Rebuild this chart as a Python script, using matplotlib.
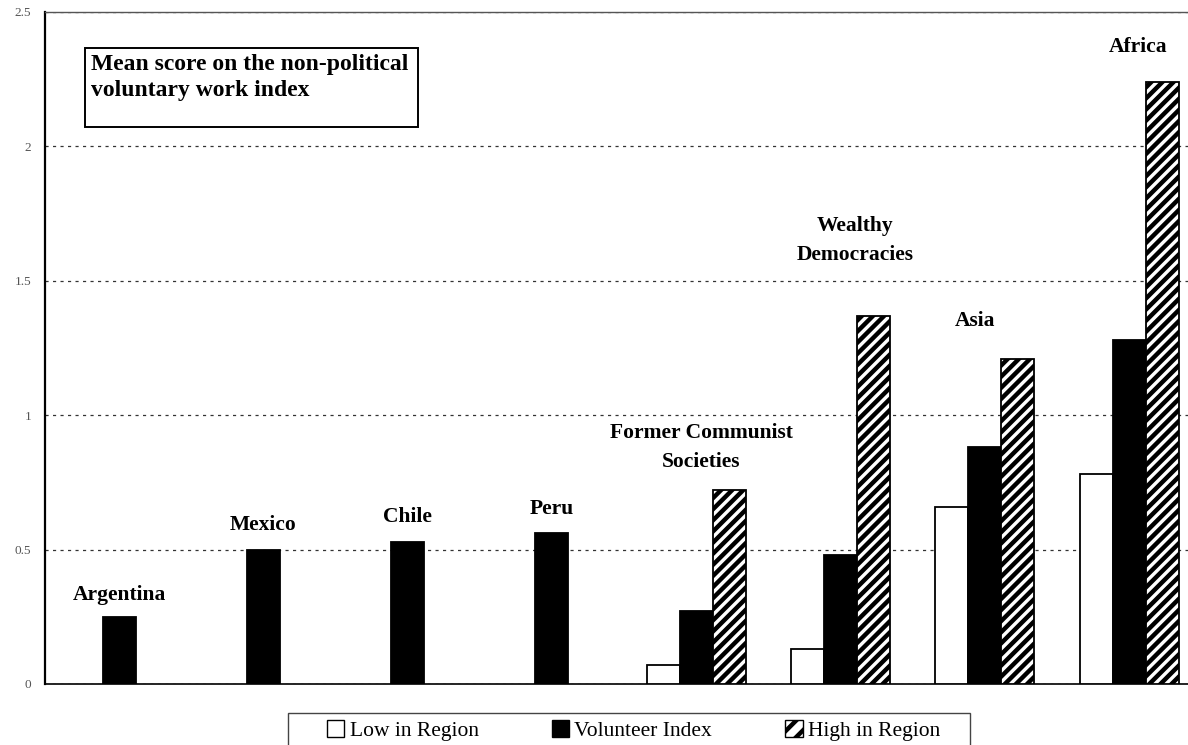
import numpy as np
import matplotlib
matplotlib.use("Agg")
import matplotlib.pyplot as plt
from matplotlib.patches import Patch, Rectangle

# dados
groups = ["Argentina", "Mexico", "Chile", "Peru",
          "Former Communist\nSocieties", "Wealthy\nDemocracies", "Asia", "Africa"]
low_in_region = [np.nan, np.nan, np.nan, np.nan, 0.07, 0.13, 0.66, 0.78]
volunteer_index = [0.25, 0.50, 0.53, 0.56, 0.27, 0.48, 0.88, 1.28]
high_in_region = [np.nan, np.nan, np.nan, np.nan, 0.72, 1.37, 1.21, 2.24]
y_ticks = [0, 0.5, 1, 1.5, 2, 2.5]
y_tick_labels = ["0", "0.5", "1", "1.5", "2", "2.5"]

# posição dos rótulos de grupo (x offset, y em unidades do eixo)
LABEL_POS = [(0, 0.33), (0, 0.59), (0, 0.62), (0, 0.65),
             (0.035, 0.88), (0.1, 1.65), (-0.07, 1.35), (0.06, 2.37)]

plt.rcParams["font.family"] = ["Liberation Serif", "DejaVu Serif"]
plt.rcParams["hatch.linewidth"] = 3.2

fig = plt.figure(figsize=(11.88, 7.45), dpi=100)
ax = fig.add_axes([45 / 1188, 61 / 745, 1143 / 1188, 672 / 745])

x = np.arange(len(groups))
w = 0.229
ax.bar(x - w, low_in_region, w, color="white", edgecolor="black", linewidth=1.3, zorder=3)
ax.bar(x, volunteer_index, w, color="black", edgecolor="black", linewidth=1.3, zorder=3)
ax.bar(x + w, high_in_region, w, color="white", edgecolor="black", hatch="///",
       linewidth=1.3, zorder=3)

for i, (name, (dx, ly)) in enumerate(zip(groups, LABEL_POS)):
    ax.text(i + dx, ly, name, ha="center", va="center", fontsize=15.5,
            fontweight="bold", linespacing=1.6, zorder=4)

ax.set_xlim(-0.513, 7.408)
ax.set_ylim(0, 2.5)
ax.set_xticks([])
ax.set_yticks(y_ticks)
ax.set_yticklabels(y_tick_labels, fontsize=9.5, color="#555555")
ax.tick_params(axis="y", length=0, pad=10)
ax.yaxis.grid(True, linestyle=(0, (2.5, 3.5)), color="#333333", linewidth=0.9)
ax.set_axisbelow(True)

ax.spines["right"].set_visible(False)
ax.spines["left"].set_linewidth(1.6)
ax.spines["bottom"].set_linewidth(1.2)
ax.spines["top"].set_linewidth(1.0)
ax.spines["top"].set_color("#555555")

# caixa do título
ax.add_patch(Rectangle((0.035, 0.829), 0.291, 0.117, transform=ax.transAxes,
                       facecolor="white", edgecolor="black", linewidth=1.4, zorder=5))
ax.text(0.040, 0.937, "Mean score on the non-political\nvoluntary work index",
        transform=ax.transAxes, ha="left", va="top", fontsize=17,
        fontweight="bold", linespacing=1.3, zorder=6)

# legenda manual, moldura desenhada à parte
handles = [Patch(facecolor="white", edgecolor="black", label="Low in Region"),
           Patch(facecolor="black", edgecolor="black", label="Volunteer Index"),
           Patch(facecolor="white", edgecolor="black", hatch="//", label="High in Region")]
fig.legend(handles=handles, loc="upper left", bbox_to_anchor=(327 / 1188, 0.033),
           ncol=3, fontsize=15.5, frameon=False, handlelength=0.8,
           handleheight=0.8, handletextpad=0.25, columnspacing=3.4,
           borderpad=0, borderaxespad=0)
fig.patches.append(Rectangle((288 / 1188, -0.01), 682 / 1188, 0.053,
                             transform=fig.transFigure, facecolor="none",
                             edgecolor="#444444", linewidth=1.0))

fig.savefig("out.png", dpi=100)
